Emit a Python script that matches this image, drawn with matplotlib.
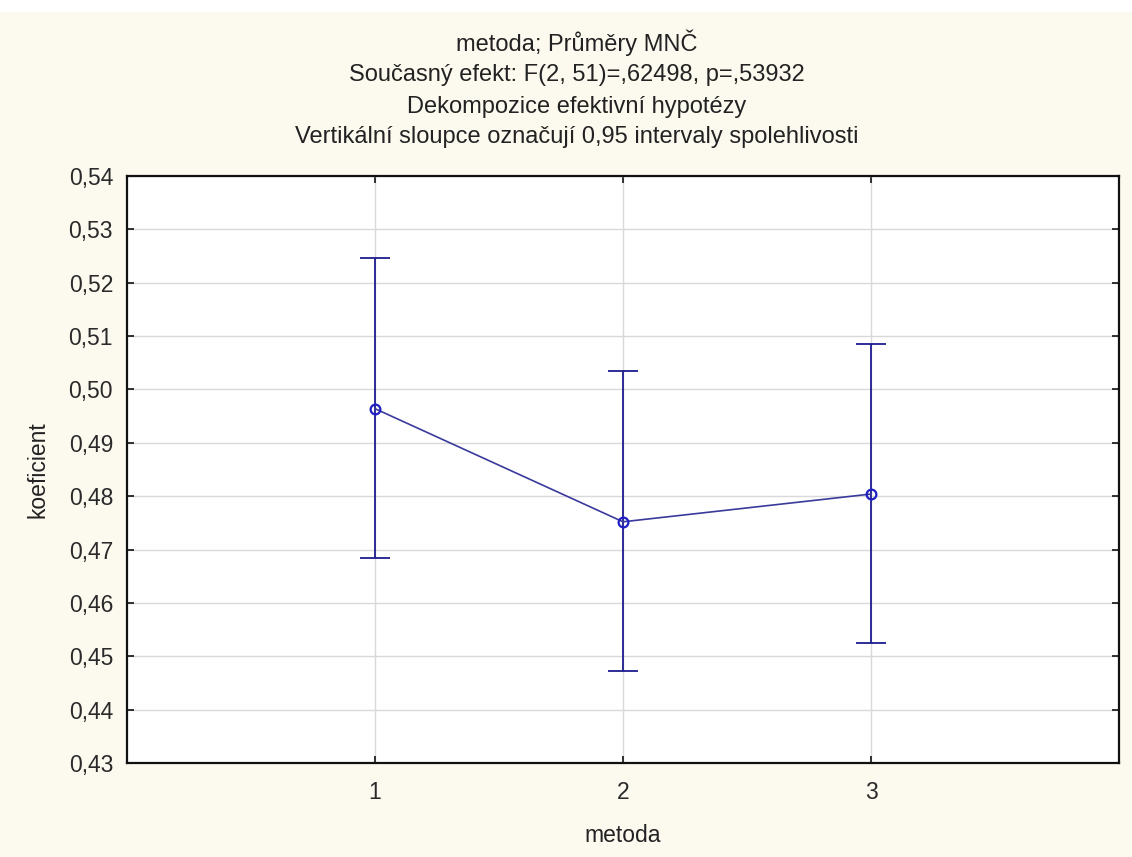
import matplotlib
matplotlib.use("Agg")
import matplotlib.pyplot as plt
from matplotlib.patches import Rectangle

# ---- data ----
methods = [1, 2, 3]
means = [0.4964, 0.4752, 0.4804]
ci_low = [0.4684, 0.4473, 0.4525]
ci_high = [0.5246, 0.5035, 0.5085]
yticks = [0.43, 0.44, 0.45, 0.46, 0.47, 0.48, 0.49, 0.50, 0.51, 0.52, 0.53, 0.54]
ytick_labels = ["0,43", "0,44", "0,45", "0,46", "0,47", "0,48", "0,49", "0,50",
                "0,51", "0,52", "0,53", "0,54"]
xtick_labels = ["1", "2", "3"]
title_lines = ["metoda; Průměry MNČ",
               "Současný efekt: F(2, 51)=,62498, p=,53932",
               "Dekompozice efektivní hypotézy",
               "Vertikální sloupce označují 0,95 intervaly spolehlivosti"]

plt.rcParams["font.family"] = ["Liberation Sans", "DejaVu Sans"]

W, H = 1132, 857
fig = plt.figure(figsize=(W / 100, H / 100), dpi=100)
bg = "#fcf9ef"
fig.patch.set_facecolor(bg)
fig.patches.append(Rectangle((0, 1 - 12 / H), 1, 12 / H, transform=fig.transFigure,
                             facecolor="white", edgecolor="none", zorder=0))

left, right, top, bottom = 127, 1119, 176, 763
ax = fig.add_axes([left / W, 1 - bottom / H, (right - left) / W, (bottom - top) / H])
ax.set_facecolor("white")

yerr = [[m - lo for m, lo in zip(means, ci_low)], [hi - m for m, hi in zip(means, ci_high)]]
ax.errorbar(methods, means, yerr=yerr, fmt="none", ecolor="#1c1c8e", elinewidth=1.3,
            capsize=11, capthick=1.3, zorder=3)
ax.plot(methods, means, color="#3a3a9c", lw=1.2, zorder=4)
ax.plot(methods, means, ls="none", marker="o", ms=7, mfc="none", mec="#1f1fc4", mew=1.6, zorder=5)

ax.set_xlim(0, 4)
ax.set_ylim(0.43, 0.54)
ax.set_xticks(methods)
ax.set_xticklabels(xtick_labels)
ax.set_yticks(yticks)
ax.set_yticklabels(ytick_labels)
ax.grid(True, color="#d9d9dc", lw=1.0)
ax.set_axisbelow(True)
for s in ax.spines.values():
    s.set_linewidth(1.6)
    s.set_color("#111111")
ax.tick_params(direction="in", length=5, width=1.2, top=True, right=True,
               labelsize=16.5, colors="#111111", labelcolor="#2a2a2a")
ax.tick_params(axis="y", pad=10)
ax.tick_params(axis="x", pad=13)

ax.set_xlabel("metoda", fontsize=16.5, color="#222222", labelpad=14)
ax.set_ylabel("koeficient", fontsize=16.5, color="#222222", labelpad=14)

cx = 577 / W
for line, yy in zip(title_lines, [43, 75, 107, 137]):
    fig.text(cx, 1 - yy / H, line, ha="center", va="center", fontsize=17, color="#222222")

fig.savefig("out.png", dpi=100, facecolor=fig.get_facecolor())
